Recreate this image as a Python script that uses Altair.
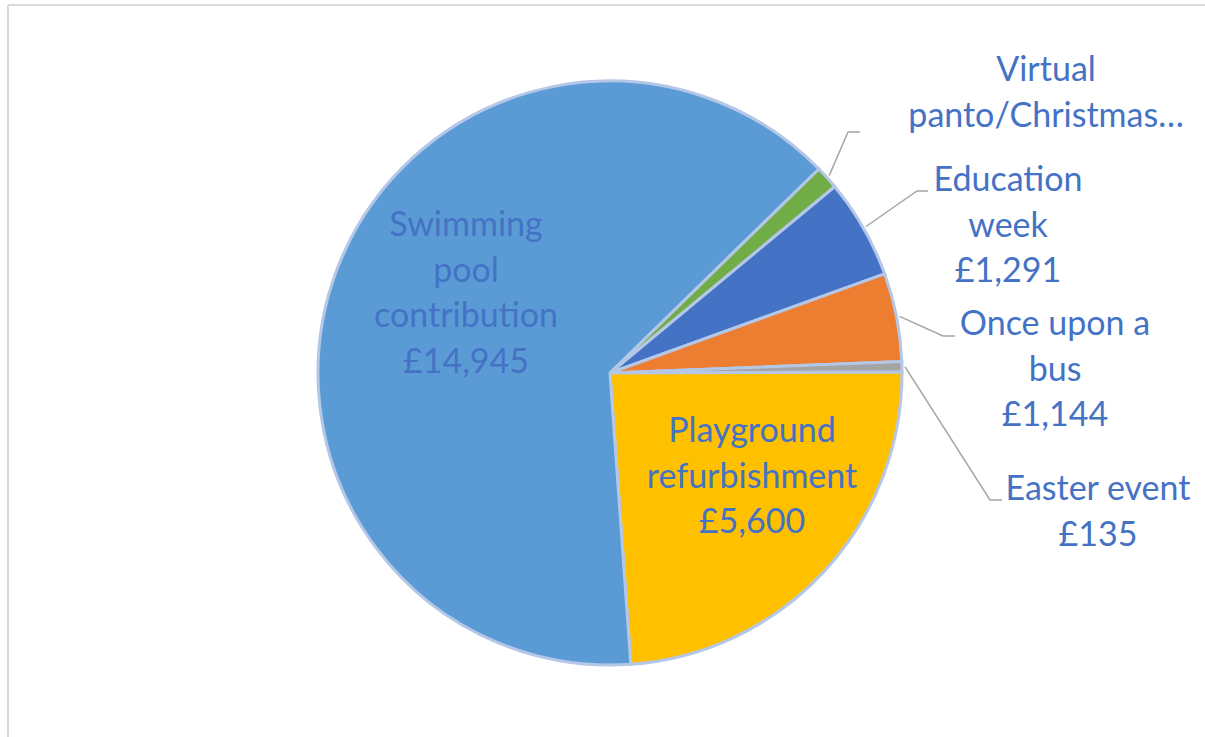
import math
import altair as alt
import pandas as pd

# ---------------- data ----------------
categories = [
    "Education week",
    "Once upon a bus",
    "Easter event",
    "Playground refurbishment",
    "Swimming pool contribution",
    "Virtual panto/Christmas…",
]
values = [1291, 1144, 135, 5600, 14945, 300]
colors = ["#4472C4", "#ED7D31", "#A5A5A5", "#FFC000", "#5B9BD5", "#70AD47"]
label_lines = [
    ["Education", "week", "£1,291"],
    ["Once upon a", "bus", "£1,144"],
    ["Easter event", "£135"],
    ["Playground", "refurbishment", "£5,600"],
    ["Swimming", "pool", "contribution", "£14,945"],
    ["Virtual", "panto/Christmas…"],
]

# ---------------- layout ----------------
W, H = 1197, 732
PAD_L, PAD_T = 8, 5
CX, CY = 610 - PAD_L, 373 - PAD_T      # pie centre (view coords)
R = 292
START_DEG = 50.3
start = math.radians(START_DEG)

# label positions (page coords: centre x, first line y) – manual placement as in the original
label_pos = {
    "Education week": (1008, 181),
    "Once upon a bus": (1055, 325),
    "Easter event": (1098, 490),
    "Playground refurbishment": (752, 432),
    "Swimming pool contribution": (466, 226),
    "Virtual panto/Christmas…": (1046, 71),
}
# leader line elbows (page coords)
elbows = {
    "Virtual panto/Christmas…": [(848, 132), (860, 132)],
    "Education week": [(917, 191), (928, 191)],
    "Once upon a bus": [(943, 336), (955, 336)],
    "Easter event": [(990, 500), (1002, 500)],
}

total = sum(values)
pie_df = pd.DataFrame({"cat": categories, "value": values, "idx": range(len(values))})

# labels
lab_rows = []
for c, lines in zip(categories, label_lines):
    px, py = label_pos[c]
    lab_rows.append({"cat": c, "text": lines, "px": px - PAD_L, "py": py - PAD_T})
lab_df = pd.DataFrame(lab_rows)

# leader lines: start on pie rim at the slice's mid angle
cum = 0
line_rows = []
for c, v in zip(categories, values):
    mid = start + 2 * math.pi * (cum + v / 2) / total
    cum += v
    if c in elbows:
        rr = R + 3
        pts = [(CX + rr * math.sin(mid), CY - rr * math.cos(mid))]
        pts += [(x - PAD_L, y - PAD_T) for x, y in elbows[c]]
        for i, (x, y) in enumerate(pts):
            line_rows.append({"cat": c, "o": i, "px": x, "py": y})
line_df = pd.DataFrame(line_rows)

pie = alt.Chart(pie_df).mark_arc(
    outerRadius=R, stroke="#B4C7E7", strokeWidth=3
).encode(
    theta=alt.Theta("value:Q", stack=True,
                    scale=alt.Scale(range=[start, start + 2 * math.pi])),
    order=alt.Order("idx:Q"),
    color=alt.Color("cat:N", scale=alt.Scale(domain=categories, range=colors), legend=None),
    x=alt.value(CX),
    y=alt.value(CY),
)

leaders = alt.Chart(line_df).mark_line(color="#A5A5A5", strokeWidth=1.5).encode(
    x=alt.X("px:Q", scale=None),
    y=alt.Y("py:Q", scale=None),
    detail="cat:N",
    order="o:Q",
)

labels = alt.Chart(lab_df).mark_text(
    font="Lato", fontSize=34, color="#4472C4", align="center",
    baseline="middle", lineHeight=45.5
).encode(
    x=alt.X("px:Q", scale=None),
    y=alt.Y("py:Q", scale=None),
    text="text",
)

one = alt.Data(values=[{}])
top_border = alt.Chart(one).mark_rule(color="#D9D9D9", strokeWidth=2).encode(
    x=alt.value(0), x2=alt.value(W), y=alt.value(0)
)
left_border = alt.Chart(one).mark_rule(color="#D9D9D9", strokeWidth=2).encode(
    x=alt.value(0), y=alt.value(0), y2=alt.value(H)
)

chart = alt.layer(pie, leaders, labels, top_border, left_border).properties(
    width=W, height=H, autosize="none",
    padding={"left": PAD_L, "top": PAD_T, "right": 0, "bottom": 0},
    background="white",
).configure_view(stroke=None)

chart.save("out.html", embed_options={"renderer": "svg", "actions": False})
